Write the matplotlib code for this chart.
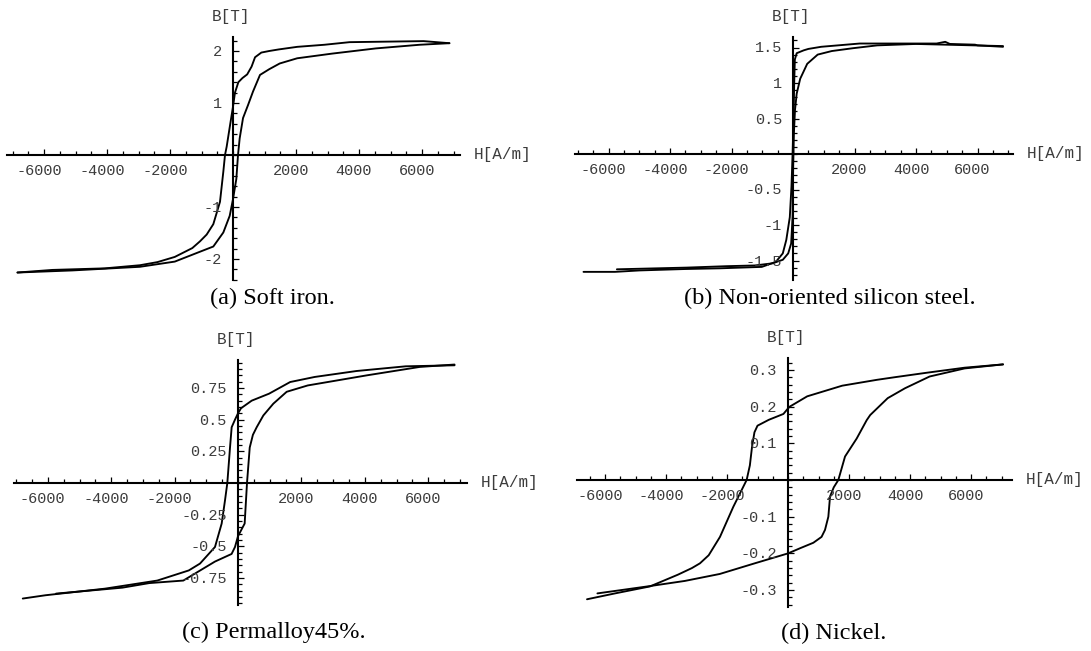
import matplotlib
matplotlib.use("Agg")
import matplotlib.pyplot as plt
from matplotlib.ticker import FixedLocator, MultipleLocator, NullFormatter
from matplotlib.transforms import ScaledTranslation

plt.rcParams['axes.unicode_minus'] = False

# ---------------- data (H in A/m, B in T) ----------------
# (a) Soft iron
iron_desc_H = [6870, 6050, 3700, 2900, 2040, 1450, 1150, 900, 700, 590, 450, 300, 170, 63, 0,
               -100, -201, -254, -307, -413, -625, -836, -1048, -1292, -1848, -2400, -2956,
               -4067, -5734, -6842]
iron_desc_B = [2.15, 2.19, 2.17, 2.12, 2.08, 2.03, 2.0, 1.97, 1.88, 1.70, 1.55, 1.48, 1.40, 1.2,
               0.93, 0.55, 0.16, 0.0, -0.32, -0.9, -1.33, -1.53, -1.66, -1.79, -1.96, -2.06,
               -2.12, -2.18, -2.21, -2.26]
iron_asc_H = [-6842, -5100, -2956, -1848, -1048, -625, -307, -105, 0, 106, 159, 212, 318, 477,
              635, 857, 1150, 1483, 2038, 3149, 4538, 5925, 6870]
iron_asc_B = [-2.26, -2.22, -2.15, -2.05, -1.86, -1.76, -1.49, -1.17, -0.85, -0.46, 0.0, 0.32,
              0.71, 0.96, 1.22, 1.54, 1.65, 1.76, 1.86, 1.95, 2.05, 2.12, 2.15]

# (b) Non-oriented silicon steel
steel_desc_H = [6830, 6000, 5920, 5100, 4950, 4670, 2170, 917, 500, 348, 120, 60, 39, 20, -13,
                -50, -104, -218, -332, -560, -1015, -2380, -3515, -4995, -5792, -6813]
steel_desc_B = [1.51, 1.53, 1.54, 1.55, 1.58, 1.556, 1.556, 1.51, 1.48, 1.46, 1.42, 1.33, 1.0,
                0.53, 0.0, -0.46, -0.89, -1.21, -1.40, -1.52, -1.59, -1.61, -1.62, -1.64,
                -1.66, -1.66]
steel_asc_H = [-5727, -3450, -2153, -1243, -673, -332, -156, -60, -13, 5, 30, 65, 120, 234, 462,
               803, 1260, 1948, 2740, 4000, 6830]
steel_asc_B = [-1.624, -1.60, -1.58, -1.57, -1.54, -1.49, -1.40, -1.26, -0.88, -0.18, 0.3, 0.62,
               0.85, 1.06, 1.27, 1.40, 1.45, 1.49, 1.53, 1.55, 1.52]

# (c) Permalloy 45%
perm_desc_H = [6830, 5288, 3742, 2420, 1646, 980, 433, 95, 0, -95, -200, -252, -337, -410, -515,
               -726, -1199, -1552, -2546, -4200, -6074, -6790]
perm_desc_B = [0.929, 0.921, 0.884, 0.837, 0.797, 0.705, 0.65, 0.59, 0.55, 0.50, 0.44, 0.28, 0.0,
               -0.137, -0.32, -0.505, -0.636, -0.69, -0.77, -0.834, -0.886, -0.912]
perm_asc_H = [-5740, -3647, -2800, -1725, -726, -202, -95, 0, 210, 284, 370, 470, 589, 799, 1114,
              1536, 2200, 4072, 5730, 6830]
perm_asc_B = [-0.873, -0.826, -0.79, -0.77, -0.62, -0.56, -0.505, -0.42, -0.32, 0.0, 0.28, 0.38,
              0.44, 0.533, 0.626, 0.72, 0.77, 0.85, 0.916, 0.935]

# (d) Nickel
nick_desc_H = [7050, 5790, 4525, 3495, 2918, 1777, 630, 59, 0, -150, -630, -1000, -1100, -1180,
               -1250, -1356, -1793, -2230, -2600, -2886, -3151, -3610, -4525, -5672, -6590]
nick_desc_B = [0.315, 0.306, 0.292, 0.28, 0.273, 0.257, 0.228, 0.2, 0.195, 0.18, 0.164, 0.148,
               0.13, 0.09, 0.04, 0.0, -0.073, -0.155, -0.205, -0.227, -0.24, -0.258, -0.29,
               -0.309, -0.325]
nick_asc_H = [-6249, -4525, -3381, -2236, -1089, 0, 394, 831, 1100, 1213, 1323, 1378, 1500, 1650,
              1870, 2252, 2580, 2695, 3269, 3836, 4643, 5790, 7050]
nick_asc_B = [-0.309, -0.289, -0.275, -0.256, -0.227, -0.2, -0.186, -0.171, -0.155, -0.136, -0.10,
              -0.045, -0.02, 0.0, 0.064, 0.113, 0.163, 0.177, 0.223, 0.25, 0.282, 0.304, 0.315]

# tick labels
x_ticks = [-6000, -4000, -2000, 2000, 4000, 6000]
x_labels = ["-6000", "-4000", "-2000", "2000", "4000", "6000"]
iron_y_ticks = [2, 1, -1, -2]
iron_y_labels = ["2", "1", "-1", "-2"]
steel_y_ticks = [1.5, 1, 0.5, -0.5, -1, -1.5]
steel_y_labels = ["1.5", "1", "0.5", "-0.5", "-1", "-1.5"]
perm_y_ticks = [0.75, 0.5, 0.25, -0.25, -0.5, -0.75]
perm_y_labels = ["0.75", "0.5", "0.25", "-0.25", "-0.5", "-0.75"]
nick_y_ticks = [0.3, 0.2, 0.1, -0.1, -0.2, -0.3]
nick_y_labels = ["0.3", "0.2", "0.1", "-0.1", "-0.2", "-0.3"]

captions = ["(a) Soft iron.", "(b) Non-oriented silicon steel.",
            "(c) Permalloy45%.", "(d) Nickel."]
x_axis_label = "H[A/m]"
y_axis_label = "B[T]"

# ---------------- layout (pixels) ----------------
W, H = 1091, 651
fig = plt.figure(figsize=(W / 100, H / 100), dpi=100)
fig.patch.set_facecolor("white")

MONO = "Liberation Mono"
SERIF = "Liberation Serif"
TICK_COLOR = "#3c3c3c"


def off(dx, dy):
    return ScaledTranslation(dx / 100.0, dy / 100.0, fig.dpi_scale_trans)


def panel(lay, series, yt, yl, yminor, caption):
    x0, y0, sx, sy, L, R, T, Bt, capx, capy = lay
    ax = fig.add_axes([L / W, 1 - Bt / H, (R - L) / W, (Bt - T) / H])
    ax.set_xlim((L - x0) / sx, (R - x0) / sx)
    ax.set_ylim((y0 - Bt) / sy, (y0 - T) / sy)
    ax.patch.set_visible(False)
    for s in ("top", "right"):
        ax.spines[s].set_visible(False)
    for s in ("left", "bottom"):
        ax.spines[s].set_position(("data", 0))
        ax.spines[s].set_linewidth(1.5)
        ax.spines[s].set_color("black")
    ax.xaxis.set_major_locator(FixedLocator(x_ticks))
    ax.xaxis.set_minor_locator(MultipleLocator(500))
    ax.yaxis.set_major_locator(FixedLocator(yt))
    ax.yaxis.set_minor_locator(MultipleLocator(yminor))
    ax.xaxis.set_major_formatter(NullFormatter())
    ax.yaxis.set_major_formatter(NullFormatter())
    ax.tick_params(which="major", direction="in", length=4.5, width=0.9, color="black")
    ax.tick_params(which="minor", direction="in", length=3.0, width=0.9, color="black")

    for hx, by in series:
        ax.plot(hx, by, color="black", lw=1.35, solid_joinstyle="round",
                solid_capstyle="round", clip_on=False, zorder=3)

    for v, s in zip(x_ticks, x_labels):
        ax.text(v, 0, s, transform=ax.transData + off(-5, -20), ha="center",
                va="baseline", family=MONO, fontsize=11, color=TICK_COLOR)
    for v, s in zip(yt, yl):
        ax.text(0, v, s, transform=ax.transData + off(-11, -5), ha="right",
                va="baseline", family=MONO, fontsize=11, color=TICK_COLOR)

    # axis labels
    fig.text((x0 - 2) / W, 1 - (T - 16) / H, y_axis_label, ha="center", va="baseline",
             family=MONO, fontsize=11.5, color=TICK_COLOR)
    fig.text((R + 14) / W, 1 - (y0 + 4) / H, x_axis_label, ha="left", va="baseline",
             family=MONO, fontsize=11.5, color=TICK_COLOR)
    fig.text(capx / W, 1 - capy / H, caption, ha="center", va="center",
             family=SERIF, fontsize=17.5, color="black")
    return ax


# (x0, y0, px-per-A/m, px-per-T, left, right, top, bottom, caption x, caption y)
lay_a = (233, 155, 0.0315, 52.0, 7, 460, 37, 280, 272, 298)
lay_b = (793, 154, 0.03075, 71.0, 575, 1013, 37, 280, 830, 298)
lay_c = (238, 483, 0.0317, 126.7, 14, 467, 360, 605, 274, 632)
lay_d = (788, 480, 0.0305, 367.0, 577, 1012, 358, 607, 834, 633)

panel(lay_a, [(iron_desc_H, iron_desc_B), (iron_asc_H, iron_asc_B)],
      iron_y_ticks, iron_y_labels, 0.2, captions[0])
panel(lay_b, [(steel_desc_H, steel_desc_B), (steel_asc_H, steel_asc_B)],
      steel_y_ticks, steel_y_labels, 0.1, captions[1])
panel(lay_c, [(perm_desc_H, perm_desc_B), (perm_asc_H, perm_asc_B)],
      perm_y_ticks, perm_y_labels, 0.05, captions[2])
panel(lay_d, [(nick_desc_H, nick_desc_B), (nick_asc_H, nick_asc_B)],
      nick_y_ticks, nick_y_labels, 0.02, captions[3])

fig.savefig("out.png", dpi=100, facecolor="white")
